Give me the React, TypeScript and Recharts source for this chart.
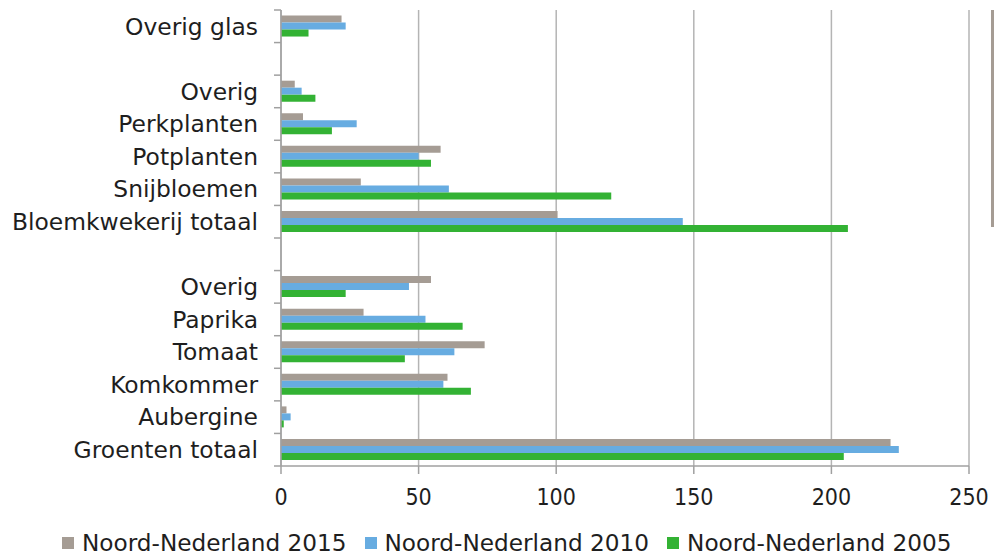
import React from "react";
import { BarChart, Bar, XAxis, YAxis, CartesianGrid, Legend } from "recharts";

const categories = [
  "Overig glas",
  "",
  "Overig",
  "Perkplanten",
  "Potplanten",
  "Snijbloemen",
  "Bloemkwekerij totaal",
  "",
  "Overig",
  "Paprika",
  "Tomaat",
  "Komkommer",
  "Aubergine",
  "Groenten totaal",
];
const nn2015 = [22, null, 5, 8, 58, 29, 100.5, null, 54.5, 30, 74, 60.5, 2, 221.5];
const nn2010 = [23.5, null, 7.5, 27.5, 50, 61, 146, null, 46.5, 52.5, 63, 59, 3.5, 224.5];
const nn2005 = [10, null, 12.5, 18.5, 54.5, 120, 206, null, 23.5, 66, 45, 69, 1, 204.5];
const xTicks = [0, 50, 100, 150, 200, 250];

const seriesNames = ["Noord-Nederland 2015", "Noord-Nederland 2010", "Noord-Nederland 2005"];
const colors = ["#A59C94", "#67ACE1", "#33B234"];

const data = categories.map((name, i) => ({
  id: i,
  name,
  s2015: nn2015[i],
  s2010: nn2010[i],
  s2005: nn2005[i],
}));

const W = 994;
const H = 558;
const MARGIN = { top: 10, right: 25, left: 0, bottom: 0 };
const Y_WIDTH = 281;
const PLOT_H = 456;
const BAND = PLOT_H / categories.length;
const AXIS_COLOR = "#A0A0A0";
const TEXT_COLOR = "#1E1E1E";
const FONT = "'DejaVu Sans', Verdana, sans-serif";

function CategoryTick(props: any) {
  const { x, y, payload, index } = props;
  const axisX = MARGIN.left + Y_WIDTH;
  const isLast = index === categories.length - 1;
  return (
    <g>
      <line x1={axisX - 7} x2={axisX} y1={y - BAND / 2} y2={y - BAND / 2} stroke={AXIS_COLOR} strokeWidth={1.5} />
      {isLast && (
        <line x1={axisX - 7} x2={axisX} y1={y + BAND / 2} y2={y + BAND / 2} stroke={AXIS_COLOR} strokeWidth={1.5} />
      )}
      <text
        x={x}
        y={y}
        dy="0.355em"
        textAnchor="end"
        fill={TEXT_COLOR}
        fontSize={23.4}
        fontFamily={FONT}
      >
        {categories[index] ?? payload.value}
      </text>
    </g>
  );
}

function renderLegend() {
  return (
    <div
      style={{
        height: 40,
        boxSizing: "border-box",
        paddingTop: 10,
        paddingLeft: 62,
        display: "flex",
        alignItems: "center",
        fontFamily: FONT,
        fontSize: 23.2,
        lineHeight: "24px",
        color: TEXT_COLOR,
        whiteSpace: "nowrap",
      }}
    >
      {seriesNames.map((n, i) => (
        <div key={n} style={{ display: "flex", alignItems: "center", marginRight: 18, height: 24 }}>
          <span style={{ display: "inline-block", width: 12, height: 12, background: colors[i], marginRight: 8 }} />
          <span style={{ lineHeight: "24px" }}>{n}</span>
        </div>
      ))}
    </div>
  );
}

export default function App() {
  return (
    <div style={{ position: "absolute", left: 0, top: 0, width: W, height: H, background: "#fff" }}>
      <BarChart
        width={W}
        height={H}
        data={data}
        layout="vertical"
        margin={MARGIN}
        barCategoryGap="17%"
        barGap={0}
      >
        <CartesianGrid horizontal={false} vertical stroke="#B4B4B4" strokeWidth={1.5} />
        <XAxis
          type="number"
          domain={[0, 250]}
          ticks={xTicks}
          interval={0}
          height={52}
          tickSize={8}
          tickMargin={15}
          axisLine={{ stroke: AXIS_COLOR, strokeWidth: 1.5 }}
          tickLine={{ stroke: AXIS_COLOR, strokeWidth: 1.5 }}
          tick={{ fill: TEXT_COLOR, fontSize: 23, fontFamily: "'DejaVu Sans Condensed', 'DejaVu Sans', sans-serif" }}
        />
        <YAxis
          type="category"
          dataKey="id"
          width={Y_WIDTH}
          interval={0}
          tickSize={7}
          tickMargin={16}
          tickLine={false}
          axisLine={{ stroke: AXIS_COLOR, strokeWidth: 1.5 }}
          tick={<CategoryTick />}
        />
        <Legend verticalAlign="bottom" align="left" content={renderLegend} wrapperStyle={{ left: 0, width: W }} />
        <Bar dataKey="s2015" name={seriesNames[0]} fill={colors[0]} isAnimationActive={false} />
        <Bar dataKey="s2010" name={seriesNames[1]} fill={colors[1]} isAnimationActive={false} />
        <Bar dataKey="s2005" name={seriesNames[2]} fill={colors[2]} isAnimationActive={false} />
      </BarChart>
      <div style={{ position: "absolute", left: 991, top: 10, width: 3, height: 217, background: "#A59C94" }} />
    </div>
  );
}
